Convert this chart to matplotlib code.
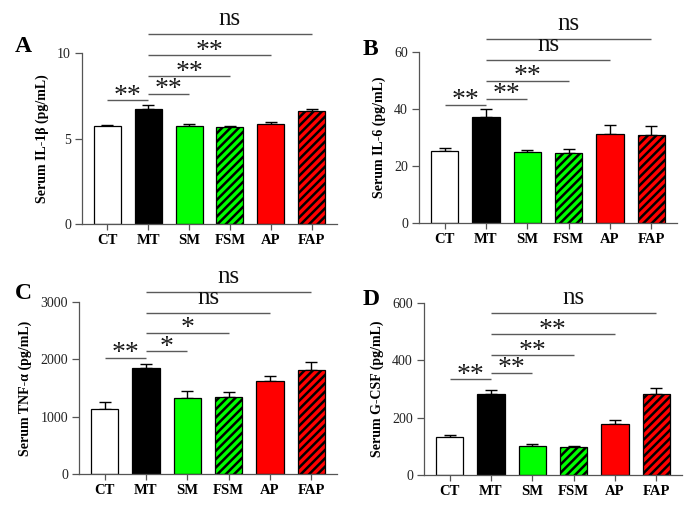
import matplotlib
matplotlib.use("Agg")
import matplotlib.pyplot as plt
import numpy as np

plt.rcParams['font.family'] = ['Liberation Serif', 'DejaVu Serif']
plt.rcParams['hatch.linewidth'] = 1.8

groups = ["CT", "MT", "SM", "FSM", "AP", "FAP"]
face_colors = ["#FFFFFF", "#000000", "#00FF00", "#00FF00", "#FF0000", "#FF0000"]
hatches = [None, None, None, "////", None, "////"]

il1b_mean = [5.75, 6.71, 5.74, 5.65, 5.84, 6.60]
il1b_err = [0.06, 0.22, 0.12, 0.08, 0.10, 0.15]
il6_mean = [25.4, 37.1, 24.9, 24.7, 31.2, 31.0]
il6_err = [0.8, 2.9, 0.7, 1.4, 3.2, 2.9]
tnf_mean = [1136, 1852, 1328, 1340, 1619, 1811]
tnf_err = [116, 64, 122, 93, 93, 146]
gcsf_mean = [133, 281, 100, 96, 177, 283]
gcsf_err = [8, 16, 7, 4, 16, 19]

# significance comparisons: (left group, right group)
sig_pairs = [(0, 1), (1, 2), (1, 3), (1, 4), (1, 5)]
il1b_sig_y = [7.23, 7.6, 8.63, 9.86, 11.1]
il1b_sig_lbl = ["**", "**", "**", "**", "ns"]
il6_sig_y = [41.4, 43.6, 49.9, 57.1, 64.6]
il6_sig_lbl = ["**", "**", "**", "ns", "ns"]
tnf_sig_y = [2021, 2137, 2458, 2807, 3180]
tnf_sig_lbl = ["**", "*", "*", "ns", "ns"]
gcsf_sig_y = [334, 357, 418, 491, 565]
gcsf_sig_lbl = ["**", "**", "**", "**", "ns"]

panels = [
    dict(letter="A", ylabel="Serum IL-1β (pg/mL)", mean=il1b_mean, err=il1b_err,
         yticks=[0, 5, 10], sy=il1b_sig_y, sl=il1b_sig_lbl,
         rect=[82, 53, 337, 224], letter_xy=(15, 52)),
    dict(letter="B", ylabel="Serum IL-6 (pg/mL)", mean=il6_mean, err=il6_err,
         yticks=[0, 20, 40, 60], sy=il6_sig_y, sl=il6_sig_lbl,
         rect=[419, 52, 677, 223], letter_xy=(363, 55)),
    dict(letter="C", ylabel="Serum TNF-α (pg/mL)", mean=tnf_mean, err=tnf_err,
         yticks=[0, 1000, 2000, 3000], sy=tnf_sig_y, sl=tnf_sig_lbl,
         rect=[79, 302, 337, 474], letter_xy=(15, 299)),
    dict(letter="D", ylabel="Serum G-CSF (pg/mL)", mean=gcsf_mean, err=gcsf_err,
         yticks=[0, 200, 400, 600], sy=gcsf_sig_y, sl=gcsf_sig_lbl,
         rect=[424, 303, 682, 475], letter_xy=(363, 305)),
]

W, H = 685, 508
fig = plt.figure(figsize=(W / 100, H / 100), dpi=100)
spine_col = "#555555"
line_col = "#5a5a5a"

for p in panels:
    l, t, r, b = p["rect"]
    ax = fig.add_axes([l / W, 1 - b / H, (r - l) / W, (b - t) / H])
    x = np.arange(len(groups))
    ax.bar(x, p["mean"], width=0.66, color=face_colors, edgecolor="black",
           linewidth=0.9, hatch=hatches, zorder=2)
    ax.errorbar(x, p["mean"], yerr=[np.zeros(len(x)), p["err"]], fmt="none",
                ecolor="black", elinewidth=1.0, capsize=4, capthick=1.0, zorder=1)
    ymax = p["yticks"][-1]
    ax.set_ylim(0, ymax)
    ax.set_xlim(-0.62, 5.62)
    ax.set_yticks(p["yticks"])
    ax.set_xticks(x)
    ax.set_xticklabels(groups, fontweight="bold", fontsize=10.5)
    ax.tick_params(axis="y", labelsize=10, length=5, width=0.9, color=spine_col,
                   labelcolor="#222222", pad=3)
    ax.tick_params(axis="x", length=4, width=0.9, color=spine_col, pad=3)
    for s in ["top", "right"]:
        ax.spines[s].set_visible(False)
    for s in ["left", "bottom"]:
        ax.spines[s].set_color(spine_col)
        ax.spines[s].set_linewidth(0.9)
    ax.set_ylabel(p["ylabel"], fontweight="bold", fontsize=10, labelpad=6)

    for (i, j), yv, lbl in zip(sig_pairs, p["sy"], p["sl"]):
        ax.plot([i, j], [yv, yv], color=line_col, lw=1.0, clip_on=False,
                solid_capstyle="butt")
        xm = (i + j) / 2
        if lbl == "ns":
            ax.annotate(lbl, (xm, yv), xytext=(0, 3), textcoords="offset points",
                        ha="center", va="bottom", fontsize=18, color="#111111",
                        annotation_clip=False)
        else:
            ax.annotate(lbl, (xm, yv), xytext=(0, -6), textcoords="offset points",
                        ha="center", va="bottom", fontsize=20,
                        color="#1a1a1a", annotation_clip=False)

    fig.text(p["letter_xy"][0] / W, 1 - p["letter_xy"][1] / H, p["letter"],
             fontweight="bold", fontsize=17, ha="left", va="baseline")

fig.savefig("out.png", dpi=100)
